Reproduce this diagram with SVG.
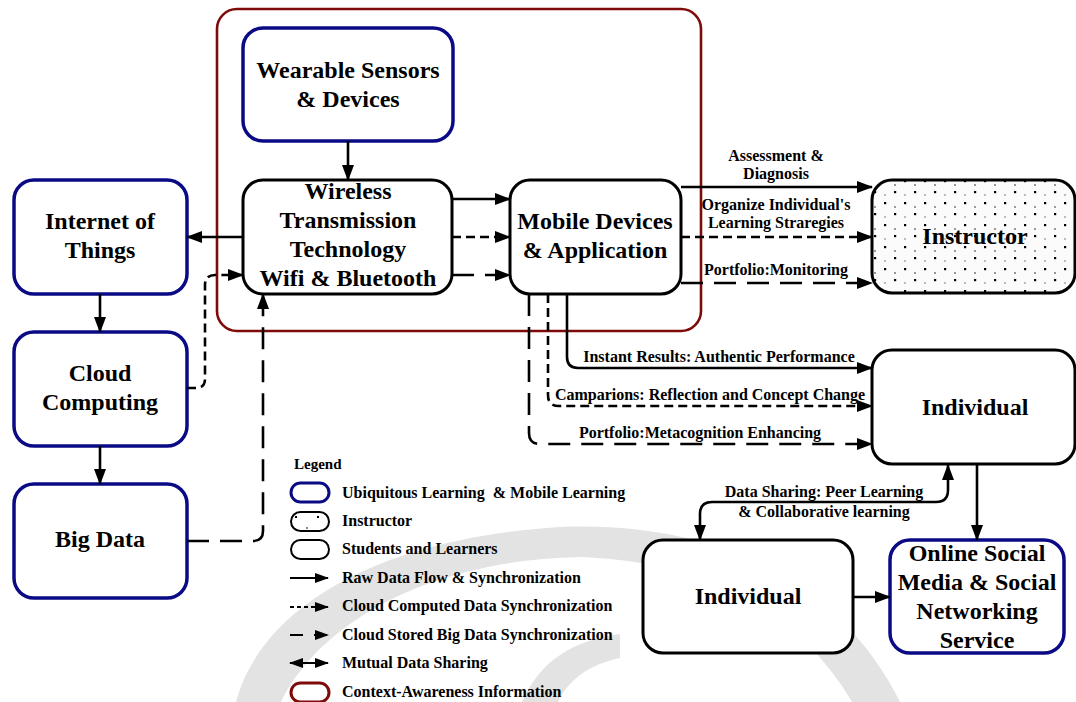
<svg xmlns="http://www.w3.org/2000/svg" width="1076" height="702" viewBox="0 0 1076 702">
<defs>
<style>
text{font-family:"Liberation Serif","Times New Roman",serif;font-weight:bold;fill:#000}
.n{font-size:24px;text-anchor:middle}
.l{font-size:16px;text-anchor:middle}
.lg{font-size:16px}
.bx{fill:#fff;stroke:#000;stroke-width:3}
.bb{fill:#fff;stroke:#0a0a85;stroke-width:3.5}
.c{fill:none;stroke:#000;stroke-width:2.6}
.d{stroke-dasharray:9 5}
.ld{stroke-dasharray:22 11}
</style>
<marker id="ah" viewBox="0 0 16 12" markerWidth="16" markerHeight="12" refX="15" refY="6" orient="auto" markerUnits="userSpaceOnUse"><path d="M0,0 L16,6 L0,12 Z" fill="#000"/></marker>
<marker id="ah2" viewBox="0 0 16 12" markerWidth="16" markerHeight="12" refX="15" refY="6" orient="auto-start-reverse" markerUnits="userSpaceOnUse"><path d="M0,0 L16,6 L0,12 Z" fill="#000"/></marker>
<marker id="al" viewBox="0 0 14 10" markerWidth="14" markerHeight="10" refX="13" refY="5" orient="auto-start-reverse" markerUnits="userSpaceOnUse"><path d="M0,0 L14,5 L0,10 Z" fill="#000"/></marker>
<pattern id="dots" width="20" height="22" patternUnits="userSpaceOnUse">
<rect width="20" height="22" fill="#fbfbfb"/>
<rect x="4" y="4" width="2.2" height="2.2" fill="#000"/>
<rect x="14" y="15" width="2.2" height="2.2" fill="#000"/>
<rect x="14" y="8" width="2" height="2" fill="#999"/>
<rect x="4" y="18" width="2" height="2" fill="#bbb"/>
</pattern>
</defs>
<rect width="1076" height="702" fill="#fff"/>
<g id="watermark" fill="#e3e3e3">
<path d="M236,702 C258,618 360,540 560,527 C740,520 850,600 900,702 L852,702 C805,622 720,562 580,557 C430,560 320,622 281,702 Z"/>
<path d="M522,702 C540,660 575,640 620,634 L620,658 C590,664 568,680 558,702 Z"/>
</g>
<g id="context-box"><rect x="217" y="9" width="484" height="322" rx="20" fill="none" stroke="#7f0a0a" stroke-width="2.6"/></g>
<g id="wearable"><rect class="bb" x="243" y="28" width="210" height="113" rx="20"/><text class="n" x="348" y="78">Wearable Sensors</text><text class="n" x="348" y="107">&amp; Devices</text></g>
<g id="wireless"><rect class="bx" x="243" y="180" width="209" height="114" rx="20"/><text class="n" x="348" y="199">Wireless</text><text class="n" x="348" y="228">Transmission</text><text class="n" x="348" y="257">Technology</text><text class="n" x="348" y="286">Wifi &amp; Bluetooth</text></g>
<g id="mobile"><rect class="bx" x="510" y="180" width="171" height="114" rx="20"/><text class="n" x="595" y="229">Mobile Devices</text><text class="n" x="595" y="258">&amp; Application</text></g>
<g id="iot"><rect class="bb" x="14" y="180" width="173" height="114" rx="20"/><text class="n" x="100" y="229">Internet of</text><text class="n" x="100" y="258">Things</text></g>
<g id="cloud"><rect class="bb" x="14" y="332" width="173" height="114" rx="20"/><text class="n" x="100" y="381">Cloud</text><text class="n" x="100" y="410">Computing</text></g>
<g id="bigdata"><rect class="bb" x="14" y="484" width="173" height="114" rx="20"/><text class="n" x="100" y="547">Big Data</text></g>
<g id="instructor"><rect x="872" y="180" width="203" height="113" rx="20" fill="url(#dots)" stroke="#000" stroke-width="3"/><text class="n" x="975" y="244">Instructor</text></g>
<g id="individual-right"><rect class="bx" x="872" y="350" width="203" height="114" rx="20"/><text class="n" x="975" y="415">Individual</text></g>
<g id="individual-left"><rect class="bx" x="643" y="540" width="210" height="113" rx="20"/><text class="n" x="748" y="604">Individual</text></g>
<g id="online"><rect class="bb" x="890" y="540" width="174" height="113" rx="20"/><text class="n" x="977" y="561">Online Social</text><text class="n" x="977" y="590">Media &amp; Social</text><text class="n" x="977" y="619">Networking</text><text class="n" x="977" y="648">Service</text></g>
<g id="connectors">
<path class="c" d="M348,141 V180" marker-end="url(#ah)"/>
<path class="c" d="M243,237 H187" marker-end="url(#ah)"/>
<path class="c" d="M100,294 V332" marker-end="url(#ah)"/>
<path class="c" d="M100,446 V484" marker-end="url(#ah)"/>
<path class="c" d="M452,199 H510" marker-end="url(#ah)"/>
<path class="c d" d="M452,237 H510" marker-end="url(#ah)"/>
<path class="c ld" d="M452,275 H510" marker-end="url(#ah)"/>
<path class="c d" d="M187,388 H196 Q205,388 205,379 V285 Q205,275 215,275 H243" marker-end="url(#ah)"/>
<path class="c ld" d="M187,541 H253 Q263,541 263,531 V294" marker-end="url(#ah)"/>
<path class="c" d="M681,187 H872" marker-end="url(#ah)"/>
<path class="c d" d="M681,237 H872" marker-end="url(#ah)"/>
<path class="c ld" d="M681,283 H872" marker-end="url(#ah)"/>
<path class="c" d="M567,294 V357 Q567,368 578,368 H872" marker-end="url(#ah)"/>
<path class="c d" d="M548,294 V395 Q548,406 559,406 H872" marker-end="url(#ah)"/>
<path class="c ld" d="M529,294 V433 Q529,444 540,444 H872" marker-end="url(#ah)"/>
<path class="c" d="M977,464 V540" marker-end="url(#ah)"/>
<path class="c" d="M853,597 H890" marker-end="url(#ah)"/>
<path class="c" d="M948,465 V490 Q948,502 936,502 H712 Q700,502 700,514 V540" marker-start="url(#ah2)" marker-end="url(#ah2)"/>
</g>
<g id="labels">
<text class="l" x="776" y="161">Assessment &amp;</text>
<text class="l" x="776" y="179">Diagnosis</text>
<text class="l" x="776" y="210">Organize Individual's</text>
<text class="l" x="776" y="228">Learning Straregies</text>
<text class="l" x="776" y="275">Portfolio:Monitoring</text>
<text class="l" x="719" y="362">Instant Results: Authentic Performance</text>
<text class="l" x="710" y="400">Camparions: Reflection and Concept Change</text>
<text class="l" x="700" y="438">Portfolio:Metacognition Enhancing</text>
<text class="l" x="824" y="497">Data Sharing: Peer Learning</text>
<text class="l" x="824" y="517">&amp; Collaborative learning</text>
</g>
<g id="legend">
<text x="294" y="469" style="font-size:15px">Legend</text>
<rect x="291" y="483" width="38" height="19" rx="9.5" fill="#fff" stroke="#0a0a85" stroke-width="3"/>
<rect x="291" y="512" width="38" height="19" rx="9.5" fill="#fff" stroke="#000" stroke-width="2"/>
<rect x="295" y="516" width="2" height="2" fill="#000"/><rect x="317" y="516" width="2" height="2" fill="#000"/><rect x="306" y="527" width="2" height="2" fill="#888"/>
<rect x="291" y="540" width="38" height="19" rx="9.5" fill="#fff" stroke="#000" stroke-width="2"/>
<path class="c" style="stroke-width:2" d="M290,578 H328" marker-end="url(#al)"/>
<path class="c" style="stroke-width:2;stroke-dasharray:4 3" d="M290,607 H328" marker-end="url(#al)"/>
<path class="c" style="stroke-width:2;stroke-dasharray:13 11" d="M290,635 H328" marker-end="url(#al)"/>
<path class="c" style="stroke-width:2" d="M290,663 H328" marker-start="url(#al)" marker-end="url(#al)"/>
<rect x="291" y="683" width="38" height="19" rx="9.5" fill="#fff" stroke="#7f0a0a" stroke-width="3"/>
<text class="lg" x="342" y="498" xml:space="preserve">Ubiquitous Learning  &amp; Mobile Learning</text>
<text class="lg" x="342" y="526">Instructor</text>
<text class="lg" x="342" y="554">Students and Learners</text>
<text class="lg" x="342" y="583">Raw Data Flow &amp; Synchronization</text>
<text class="lg" x="342" y="611">Cloud Computed Data Synchronization</text>
<text class="lg" x="342" y="640">Cloud Stored Big Data Synchronization</text>
<text class="lg" x="342" y="668">Mutual Data Sharing</text>
<text class="lg" x="342" y="697">Context-Awareness Information</text>
</g>
</svg>
